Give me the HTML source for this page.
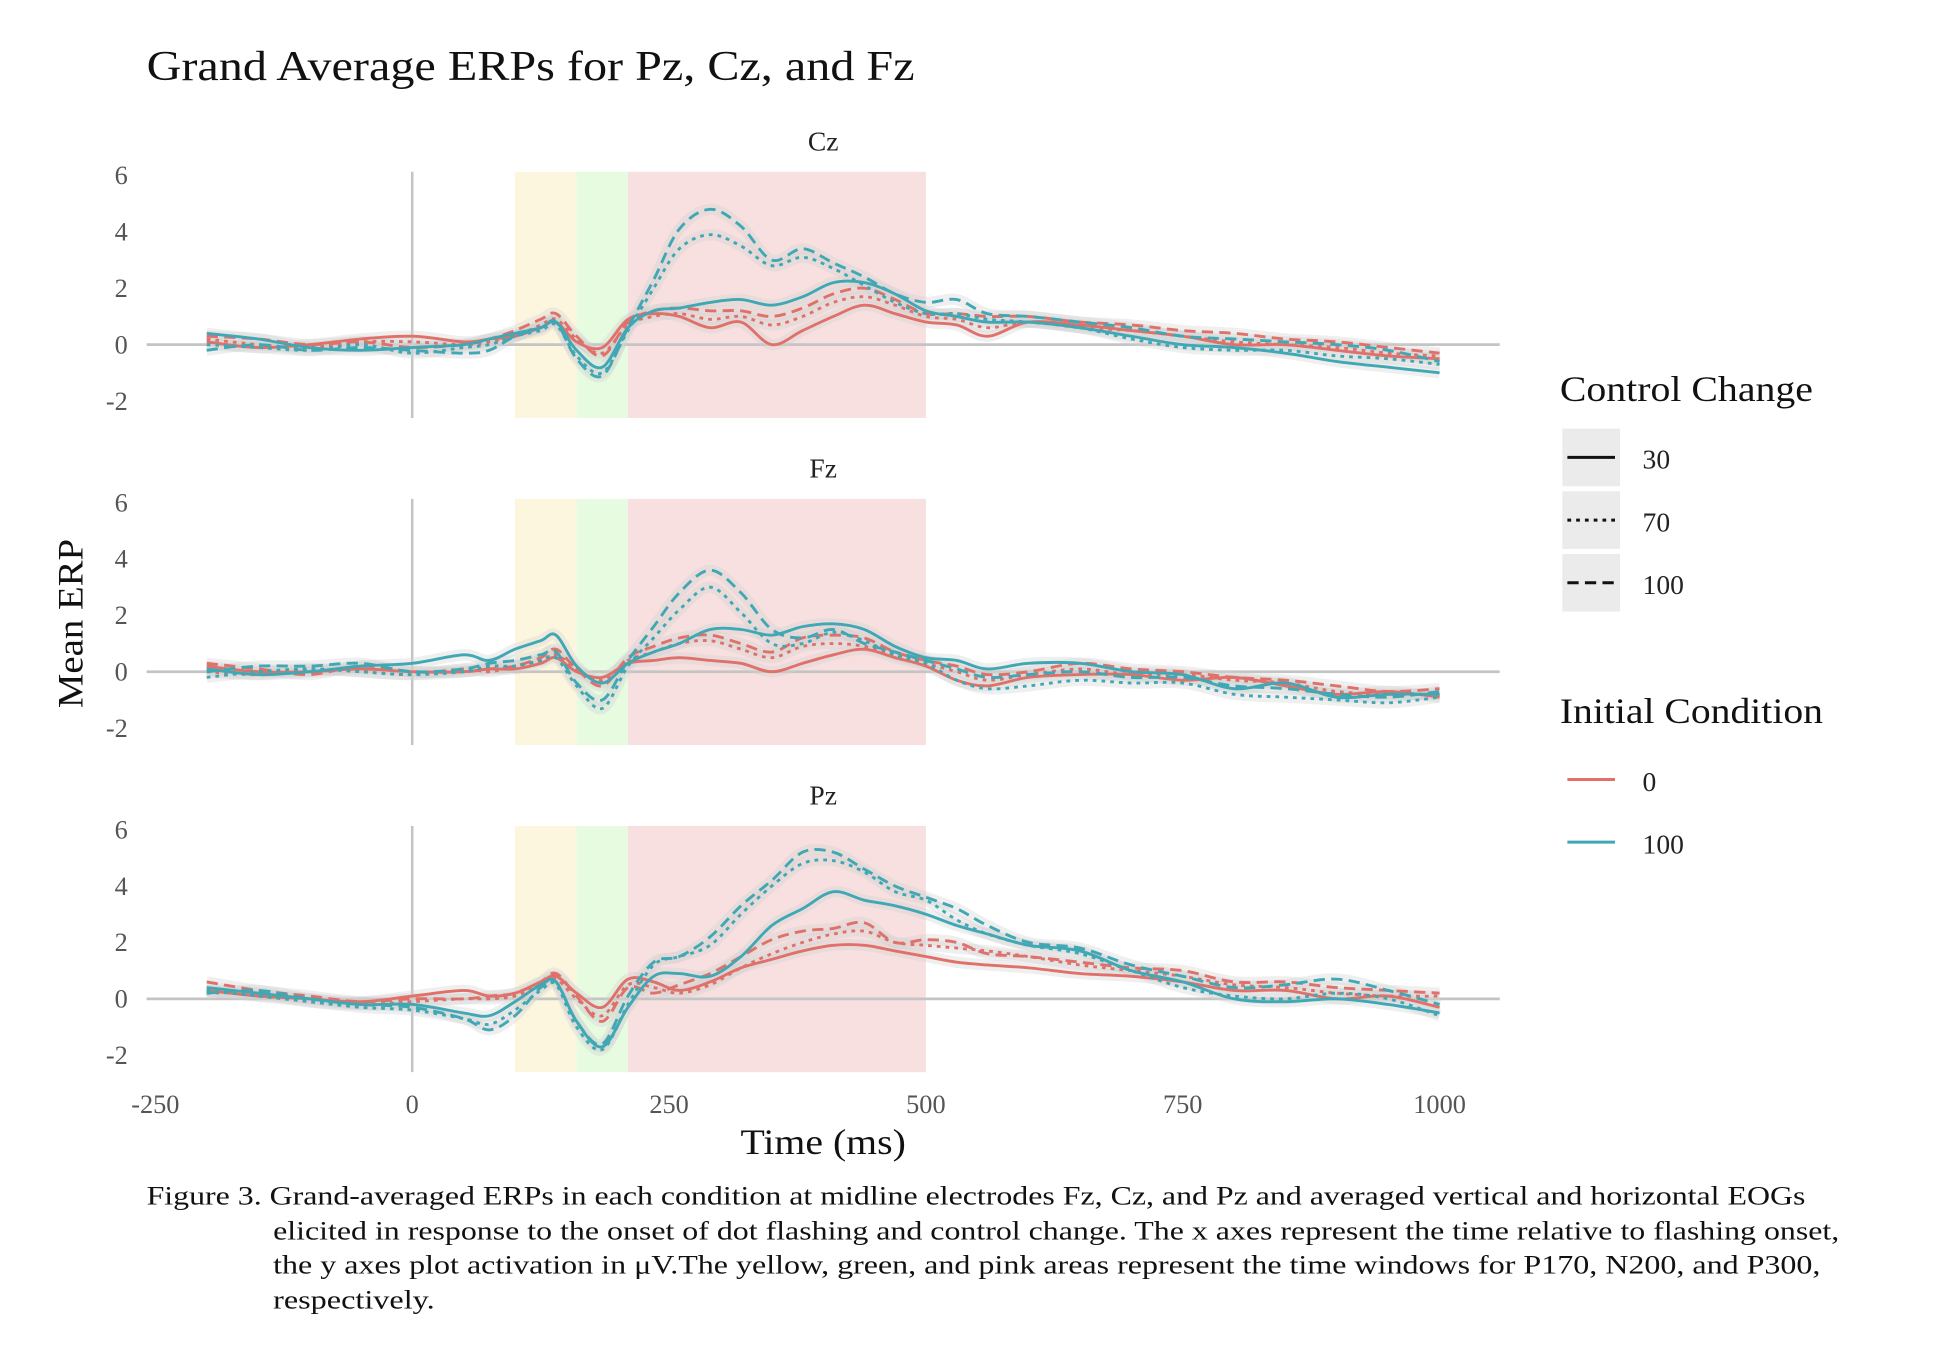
<!DOCTYPE html>
<html><head><meta charset="utf-8"><style>
html,body{margin:0;padding:0;background:#fff;}
svg{display:block;}
text{font-family:"Liberation Serif",serif;}
</style></head>
<body>
<svg id="chart" width="1942" height="1356" viewBox="0 0 1550 1082" preserveAspectRatio="none" xmlns="http://www.w3.org/2000/svg">
<text x="117" y="64" font-size="34" fill="#111" textLength="613" lengthAdjust="spacingAndGlyphs">Grand Average ERPs for Pz, Cz, and Fz</text>
<g id="panels"></g>
<text x="591" y="921" font-size="29" fill="#111" textLength="132" lengthAdjust="spacingAndGlyphs">Time (ms)</text>
<text transform="translate(66,565) rotate(-90)" font-size="29" fill="#111" textLength="135" lengthAdjust="spacingAndGlyphs">Mean ERP</text>
<g>
<text x="1245" y="320" font-size="29" fill="#111" textLength="202" lengthAdjust="spacingAndGlyphs">Control Change</text>
<rect x="1247" y="342" width="46" height="46" fill="#ebebeb"/>
<line x1="1251" y1="365" x2="1289" y2="365" stroke="#111" stroke-width="2.4"/>
<text x="1311" y="374" font-size="22" fill="#222">30</text>
<rect x="1247" y="392" width="46" height="46" fill="#ebebeb"/>
<line x1="1251" y1="415" x2="1289" y2="415" stroke="#111" stroke-width="2.4" stroke-dasharray="3,4"/>
<text x="1311" y="424" font-size="22" fill="#222">70</text>
<rect x="1247" y="442" width="46" height="46" fill="#ebebeb"/>
<line x1="1251" y1="465" x2="1289" y2="465" stroke="#111" stroke-width="2.4" stroke-dasharray="9,5"/>
<text x="1311" y="474" font-size="22" fill="#222">100</text>
</g>
<g>
<text x="1245" y="577" font-size="29" fill="#111" textLength="210" lengthAdjust="spacingAndGlyphs">Initial Condition</text>
<line x1="1251" y1="622" x2="1289" y2="622" stroke="#e0716a" stroke-width="2.4"/>
<text x="1311" y="631" font-size="22" fill="#222">0</text>
<line x1="1251" y1="672" x2="1289" y2="672" stroke="#3fa8b4" stroke-width="2.4"/>
<text x="1311" y="681" font-size="22" fill="#222">100</text>
</g>
<g font-size="21" fill="#111">
<text x="117" y="961" textLength="1324" lengthAdjust="spacingAndGlyphs">Figure 3. Grand-averaged ERPs in each condition at midline electrodes Fz, Cz, and Pz and averaged vertical and horizontal EOGs</text>
<text x="218" y="989" textLength="1250" lengthAdjust="spacingAndGlyphs">elicited in response to the onset of dot flashing and control change. The x axes represent the time relative to flashing onset,</text>
<text x="218" y="1016" textLength="1235" lengthAdjust="spacingAndGlyphs">the y axes plot activation in μV.The yellow, green, and pink areas represent the time windows for P170, N200, and P300,</text>
<text x="218" y="1044" textLength="129" lengthAdjust="spacingAndGlyphs">respectively.</text>
</g>
</svg>
<script>
const times=[-200,-150,-100,-50,0,50,75,100,125,140,160,185,210,235,260,290,320,350,380,410,440,470,500,530,560,600,650,700,750,800,850,900,950,1000];
const xTicks=[-250,0,250,500,750,1000];
const yTicks=[-2,0,2,4,6];
const panelNames=["Cz","Fz","Pz"];
const windows=[[100,160,"#fdf6df"],[160,210,"#e6fbe0"],[210,500,"#f8e0e0"]];
const cz_r30=[0.1,-0.1,0,0.2,0.3,0.1,0.2,0.3,0.6,0.8,0.1,-0.1,0.9,1.1,1.0,0.6,0.8,0.0,0.5,1.0,1.4,1.1,0.8,0.7,0.3,0.8,0.7,0.5,0.3,0.0,0.0,-0.2,-0.4,-0.5];
const cz_r70=[0.2,0,-0.1,0.1,0.1,0,0.1,0.3,0.7,0.9,0.2,-0.3,0.7,1.0,1.1,0.9,1.0,0.7,1.0,1.5,1.7,1.4,1.0,0.9,0.6,0.8,0.6,0.5,0.3,0.1,0,-0.1,-0.3,-0.4];
const cz_r100=[0.3,0.2,0,0.1,-0.1,0,0.2,0.5,0.9,1.1,0.3,-0.4,0.8,1.2,1.3,1.2,1.2,1.0,1.3,1.8,2.0,1.6,1.1,1.1,1.0,1.0,0.8,0.7,0.5,0.4,0.2,0.1,-0.1,-0.3];
const cz_t30=[0.4,0.2,-0.1,-0.2,-0.1,0,0.2,0.4,0.6,0.8,-0.2,-0.8,0.6,1.2,1.3,1.5,1.6,1.4,1.7,2.2,2.2,1.8,1.2,1.0,0.8,0.8,0.6,0.3,0.0,-0.1,-0.3,-0.6,-0.8,-1.0];
const cz_t70=[0,-0.1,-0.2,0,-0.3,-0.1,0,0.3,0.5,0.7,-0.4,-1.0,0.5,2.0,3.4,3.9,3.5,2.8,3.1,2.7,2.1,1.5,1.1,1.1,0.9,0.8,0.6,0.2,-0.1,-0.2,-0.2,-0.4,-0.5,-0.7];
const cz_t100=[-0.2,0,-0.2,-0.1,-0.2,-0.3,-0.2,0.3,0.6,0.8,-0.5,-1.1,0.6,2.3,4.1,4.8,4.2,3.0,3.4,2.9,2.4,1.8,1.5,1.6,1.1,1.0,0.8,0.6,0.3,0.2,0.1,0.0,-0.2,-0.6];
const fz_r30=[0.2,0,0,0.1,0,0,0.1,0.1,0.3,0.5,0,-0.2,0.3,0.4,0.5,0.4,0.3,0.0,0.3,0.6,0.8,0.5,0.2,-0.3,-0.5,-0.2,-0.1,-0.1,-0.3,-0.2,-0.5,-0.8,-0.7,-0.9];
const fz_r70=[0,-0.1,0.1,0,-0.1,0.1,0,0.2,0.4,0.6,0.1,-0.3,0.4,0.7,1.0,1.1,0.8,0.5,0.9,1.0,0.9,0.6,0.3,0,-0.3,-0.1,0.1,-0.1,-0.1,-0.3,-0.4,-0.7,-0.8,-0.8];
const fz_r100=[0.3,0.1,-0.1,0.2,0,0,0.1,0.2,0.5,0.8,0.1,-0.5,0.5,0.9,1.2,1.3,1.0,0.7,1.2,1.3,1.2,0.7,0.4,0.2,-0.1,0,0.3,0.1,0,-0.2,-0.3,-0.5,-0.7,-0.6];
const fz_t30=[0.1,-0.1,0,0.2,0.3,0.6,0.4,0.8,1.1,1.3,0.2,-0.4,0.3,0.7,1.0,1.5,1.5,1.3,1.6,1.7,1.5,0.9,0.5,0.4,0.1,0.3,0.3,0,-0.1,-0.6,-0.4,-0.9,-0.8,-0.8];
const fz_t70=[-0.2,0,0.1,0,-0.1,0,0.2,0.2,0.4,0.5,-0.5,-1.3,0.2,1.2,2.2,3.0,2.1,1.0,1.0,1.4,1.1,0.6,0.3,-0.3,-0.6,-0.5,-0.3,-0.4,-0.4,-0.8,-0.9,-1.0,-1.1,-0.9];
const fz_t100=[0,0.2,0.2,0.3,0,0.1,0.3,0.4,0.6,0.7,-0.4,-1.0,0.4,1.6,2.8,3.6,2.8,1.5,1.2,1.5,1.0,0.7,0.4,0.1,-0.2,-0.1,0,-0.2,-0.2,-0.5,-0.6,-0.8,-0.9,-0.7];
const pz_r30=[0.3,0.1,0,-0.1,0.1,0.3,0.1,0.2,0.6,0.8,0.2,-0.3,0.7,0.6,0.3,0.6,1.1,1.4,1.7,1.9,1.9,1.7,1.5,1.3,1.2,1.1,0.9,0.8,0.6,0.3,0.3,0.0,0.1,-0.3];
const pz_r70=[0.2,0.2,-0.1,-0.2,-0.1,0,0,0.1,0.5,0.7,0,-0.6,0.5,0.4,0.2,0.5,1.1,1.6,2.0,2.3,2.4,2.0,1.9,1.8,1.7,1.5,1.2,1.0,0.8,0.5,0.4,0.2,0.1,0.1];
const pz_r100=[0.6,0.3,0.1,-0.1,0,0,0.1,0.2,0.6,0.9,0.1,-0.8,0.4,0.2,0.5,0.9,1.5,2.1,2.4,2.5,2.7,2.0,2.1,2.0,1.6,1.5,1.3,1.1,1.0,0.6,0.6,0.4,0.3,0.2];
const pz_t30=[0.4,0.2,0,-0.2,-0.2,-0.5,-0.6,-0.1,0.5,0.6,-0.8,-1.7,-0.3,0.8,0.9,0.8,1.5,2.6,3.2,3.8,3.5,3.3,3.0,2.6,2.3,1.9,1.7,1.0,0.6,0.0,-0.1,0.0,-0.2,-0.5];
const pz_t70=[0.3,0.1,-0.1,-0.3,-0.4,-0.7,-0.9,-0.4,0.3,0.5,-1.0,-1.8,-0.2,1.2,1.5,1.9,3.0,4.0,4.8,4.9,4.5,3.8,3.5,2.8,2.3,1.9,1.6,1.0,0.4,0.1,0.0,0.2,0.0,-0.6];
const pz_t100=[0.2,0.3,0,-0.2,-0.3,-0.7,-1.1,-0.6,0.4,0.6,-0.8,-1.6,0.1,1.3,1.5,2.2,3.3,4.2,5.2,5.2,4.6,4.0,3.6,3.2,2.6,2.0,1.8,1.2,0.8,0.4,0.5,0.7,0.3,-0.2];

const panelData=[
 [cz_r30,cz_r70,cz_r100,cz_t30,cz_t70,cz_t100],
 [fz_r30,fz_r70,fz_r100,fz_t30,fz_t70,fz_t100],
 [pz_r30,pz_r70,pz_r100,pz_t30,pz_t70,pz_t100]];
const seriesColors=["#e0716a","#e0716a","#e0716a","#3fa8b4","#3fa8b4","#3fa8b4"];
const seriesDash=["none","3,4","9,5","none","3,4","9,5"];
const seriesNames=["init0-cc30","init0-cc70","init0-cc100","init100-cc30","init100-cc70","init100-cc100"];

const NS="http://www.w3.org/2000/svg";
const X=t=>329+(t)*0.82;
const Yp=(p,v)=>275+p*261-v*22.5;
function mk(tag,attrs,parent){const e=document.createElementNS(NS,tag);for(const k in attrs)e.setAttribute(k,attrs[k]);parent.appendChild(e);return e;}
function smoothPath(pts){let d="M"+pts[0][0]+","+pts[0][1];for(let i=0;i<pts.length-1;i++){const p0=pts[Math.max(0,i-1)],p1=pts[i],p2=pts[i+1],p3=pts[Math.min(pts.length-1,i+2)];const c1x=p1[0]+(p2[0]-p0[0])/6,c1y=p1[1]+(p2[1]-p0[1])/6,c2x=p2[0]-(p3[0]-p1[0])/6,c2y=p2[1]-(p3[1]-p1[1])/6;d+=" C"+c1x.toFixed(1)+","+c1y.toFixed(1)+" "+c2x.toFixed(1)+","+c2y.toFixed(1)+" "+p2[0].toFixed(1)+","+p2[1].toFixed(1);}return d;}
const root=document.getElementById("panels");
panelNames.forEach((nm,p)=>{
 const g=mk("g",{},root);
 
 
 const top=Yp(p,6.13),bot=Yp(p,-2.6);
 windows.forEach(w=>{const r=mk("rect",{x:X(w[0]),y:top,width:X(w[1])-X(w[0]),height:bot-top,fill:w[2]},g);
  
  });
 const vl=mk("line",{x1:X(0),x2:X(0),y1:top,y2:bot,stroke:"#c4c4c4","stroke-width":2},g);
 
 
 const hl=mk("line",{x1:117,x2:1197,y1:Yp(p,0),y2:Yp(p,0),stroke:"#c4c4c4","stroke-width":2.2},g);
 
 
 yTicks.forEach(v=>{const t=mk("text",{x:102,y:Yp(p,v)+7,"font-size":21,"text-anchor":"end",fill:"#555"},g);t.textContent=v;
  
  });
 const st=mk("text",{x:657,y:Yp(p,6)-20,"font-size":22,"text-anchor":"middle",fill:"#222"},g);st.textContent=nm;
 
 
 panelData[p].forEach((arr,i)=>{
  const pts=times.map((t,j)=>[X(t),Yp(p,arr[j])]);
  const d=smoothPath(pts);
  const rb=mk("path",{d:d,fill:"none",stroke:"#d0d0d0","stroke-opacity":0.35,"stroke-width":9,"stroke-linejoin":"round"},g);
  
  
 });
 panelData[p].forEach((arr,i)=>{
  const pts=times.map((t,j)=>[X(t),Yp(p,arr[j])]);
  const a={d:smoothPath(pts),fill:"none",stroke:seriesColors[i],"stroke-width":2.3,"stroke-linejoin":"round"};
  if(seriesDash[i]!=="none")a["stroke-dasharray"]=seriesDash[i];
  const l=mk("path",a,g);
  
  
 });
});
const svg=document.getElementById("chart");
xTicks.forEach(v=>{const t=mk("text",{x:X(v),y:888,"font-size":21,"text-anchor":"middle",fill:"#555"},svg);t.textContent=v;
 
 });
</script>
</body></html>
